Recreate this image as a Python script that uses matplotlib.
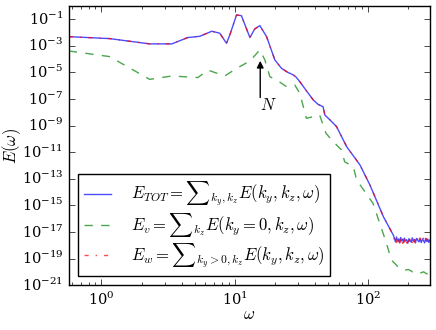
import matplotlib
matplotlib.use("Agg")
import matplotlib.pyplot as plt
import numpy as np

# frequency spectra
w_tot = [0.569, 1.15, 2.30, 3.37, 4.44, 5.46, 6.72, 7.71, 8.66, 9.17, 10.3, 11.2,
         12.97, 14.1, 15.4, 17.3, 19.95, 22.4, 25.0, 27.4, 28.7, 30.7, 34.5, 38.7,
         42.0, 45.9, 47.3, 52.0, 57.9, 68.9, 86.7, 103, 130, 154]
e_tot = [4.9e-3, 3.5e-3, 1.4e-3, 1.4e-3, 4.2e-3, 5.2e-3, 1.25e-2, 8.9e-3, 1.55e-3,
         6.6e-3, 0.21, 0.186, 4.2e-3, 1.86e-2, 3.3e-2, 4.9e-3, 8.7e-5, 2.0e-5, 1.0e-5,
         6.5e-6, 4.6e-6, 2.0e-6, 4.0e-7, 8.5e-8, 4.0e-8, 2.6e-8, 6.3e-9, 2.5e-9,
         8.3e-10, 2.6e-11, 1.1e-12, 3.4e-14, 1.4e-16, 5.9e-18]

# noisy floor at high frequency
w_tail = [157, 160, 163, 166, 169, 172, 175, 178, 181, 184, 187, 190, 194, 198,
          202, 206, 210, 214, 218, 222, 226, 230, 235, 240, 245, 250, 255, 260,
          265, 270, 275, 280, 285, 290]
e_tot_tail = [3.5e-18, 1.8e-18, 4.2e-18, 2.0e-18, 3.0e-18, 1.5e-18, 3.8e-18, 2.2e-18,
              2.9e-18, 1.6e-18, 3.4e-18, 2.1e-18, 2.6e-18, 1.4e-18, 3.1e-18, 2.3e-18,
              1.7e-18, 3.6e-18, 2.0e-18, 2.7e-18, 1.5e-18, 3.2e-18, 2.4e-18, 1.8e-18,
              2.9e-18, 1.6e-18, 3.0e-18, 2.2e-18, 1.5e-18, 3.3e-18, 1.9e-18, 2.8e-18,
              1.6e-18, 2.5e-18]
e_w_tail = [2.2e-18, 4.0e-18, 1.6e-18, 3.6e-18, 1.9e-18, 4.5e-18, 1.7e-18, 3.2e-18,
            1.4e-18, 3.9e-18, 1.8e-18, 3.3e-18, 1.5e-18, 3.7e-18, 1.9e-18, 2.8e-18,
            4.1e-18, 1.6e-18, 3.4e-18, 1.7e-18, 3.5e-18, 1.9e-18, 3.0e-18, 1.4e-18,
            3.6e-18, 2.0e-18, 1.7e-18, 3.4e-18, 2.6e-18, 1.6e-18, 3.1e-18, 1.8e-18,
            3.3e-18, 2.0e-18]

w_v = [0.569, 1.15, 2.30, 3.37, 5.28, 6.28, 8.4, 10.3, 12.97, 15.4, 16.8, 18.3,
       21.5, 24.4, 28.1, 30.7, 34.4, 38.7, 43.2, 48.3, 54.6, 63.0, 66.6, 77.3,
       81.9, 108.7, 137, 149, 172, 185, 200, 215, 230, 245, 260, 275, 290]
e_v = [4.1e-4, 1.55e-4, 3.0e-6, 5.4e-6, 4.1e-6, 1.5e-5, 5.4e-6, 2.0e-5, 7.2e-5,
       4.9e-4, 8.7e-5, 4.8e-6, 2.0e-6, 8.5e-7, 1.15e-6, 2.7e-7, 3.5e-9, 4.7e-9,
       6.3e-9, 2.6e-10, 6.2e-11, 1.5e-11, 1.9e-12, 8.1e-13, 8.1e-14, 1.4e-15,
       1.4e-18, 7.8e-20, 1.8e-20, 1.3e-20, 1.5e-20, 1.0e-20, 1.2e-20, 0.8e-20,
       1.0e-20, 0.7e-20, 0.9e-20]

plt.style.use('classic')
plt.rcParams['mathtext.fontset'] = 'cm'
plt.rcParams['font.family'] = 'serif'
plt.rcParams['font.size'] = 10.5

fig = plt.figure(figsize=(4.36, 3.30), dpi=100, facecolor='white')
ax = fig.add_axes([0.158, 0.136, 0.828, 0.846])

w_all = w_tot + w_tail
ax.loglog(w_all, e_tot + e_tot_tail, 'b-', lw=1, alpha=0.7,
          label=r'$E_{TOT}={\sum}_{k_y,k_z}E(k_y,k_z,\omega)$')
ax.loglog(w_v, e_v, 'g--', lw=1, alpha=0.7,
          label=r'$E_v={\sum}_{k_z}E(k_y=0,k_z,\omega)$')
ax.loglog(w_all, e_tot + e_w_tail, 'r-.', lw=1, alpha=0.7,
          label=r'$E_w={\sum}_{k_y>0,k_z}E(k_y,k_z,\omega)$')

ax.annotate('', xy=(15.5, 1.2e-4), xytext=(15.5, 8e-8),
            arrowprops=dict(arrowstyle='-|>', color='k', lw=1, mutation_scale=10))
ax.text(17.8, 3e-8, r'$N$', fontsize=12, ha='center', va='center')

ax.set_xlim(0.57, 290)
ax.set_ylim(1e-21, 1)
ax.set_yticks([10.0 ** k for k in range(-21, 0, 2)])
ax.yaxis.set_minor_locator(matplotlib.ticker.NullLocator())
ax.set_xlabel(r'$\omega$', fontsize=12)
ax.set_ylabel(r'$E(\omega)$', fontsize=12)
ax.yaxis.set_label_coords(-0.128, 0.5)
ax.xaxis.set_label_coords(0.5, -0.075)

ax.legend(loc='lower left', fontsize=12, handlelength=1.6, handletextpad=1.2,
          numpoints=1, borderaxespad=0.55, labelspacing=0.15, borderpad=0.35)

fig.savefig('out.png', dpi=100, facecolor='white')
